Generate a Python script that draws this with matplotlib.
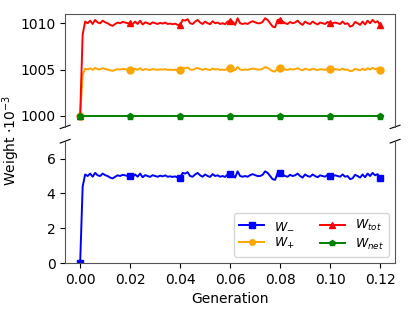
import numpy as np
import matplotlib.pyplot as plt

# generation axis, one sample per 0.001
generation = np.arange(121) * 0.001

w_minus = [
    0.00, 4.40, 5.09, 5.00, 5.14, 4.96, 5.18, 5.04, 5.00, 5.14,
    5.05, 5.00, 4.91, 4.86, 4.96, 5.04, 5.00, 5.07, 5.04, 5.00,
    5.00, 4.95, 5.09, 4.96, 5.14, 4.93, 5.05, 5.00, 4.95, 5.05,
    5.00, 4.96, 5.02, 4.98, 5.04, 4.96, 4.98, 4.95, 4.98, 4.91,
    4.90, 5.18, 5.14, 5.22, 5.00, 4.96, 5.09, 5.18, 5.04, 4.96,
    5.09, 5.00, 4.95, 5.11, 5.00, 5.04, 4.96, 5.00, 4.95, 5.09,
    5.14, 5.09, 4.91, 5.27, 5.00, 4.96, 5.00, 4.96, 5.05, 5.11,
    5.05, 5.00, 5.00, 5.07, 5.27, 5.18, 5.00, 4.82, 4.78, 5.18,
    5.20, 5.09, 5.00, 4.96, 5.07, 5.00, 5.04, 5.14, 5.00, 4.91,
    5.09, 5.00, 4.96, 5.09, 5.00, 4.93, 5.04, 5.00, 4.96, 5.07,
    5.02, 5.00, 5.04, 5.00, 4.96, 5.09, 4.96, 5.00, 4.82, 4.87,
    5.07, 5.00, 4.91, 5.09, 4.93, 5.14, 5.00, 5.18, 5.04, 5.11,
    4.90,
]

w_plus = [
    1000.00, 1004.40, 1005.09, 1005.00, 1005.14, 1004.96, 1005.18, 1005.04, 1005.00, 1005.14,
    1005.05, 1005.00, 1004.91, 1004.86, 1004.96, 1005.04, 1005.00, 1005.07, 1005.04, 1005.00,
    1005.00, 1004.95, 1005.09, 1004.96, 1005.14, 1004.93, 1005.05, 1005.00, 1004.95, 1005.05,
    1005.00, 1004.96, 1005.02, 1004.98, 1005.04, 1004.96, 1004.98, 1004.95, 1004.98, 1004.91,
    1004.90, 1005.18, 1005.14, 1005.22, 1005.00, 1004.96, 1005.09, 1005.18, 1005.04, 1004.96,
    1005.09, 1005.00, 1004.95, 1005.11, 1005.00, 1005.04, 1004.96, 1005.00, 1004.95, 1005.09,
    1005.14, 1005.09, 1004.91, 1005.27, 1005.00, 1004.96, 1005.00, 1004.96, 1005.05, 1005.11,
    1005.05, 1005.00, 1005.00, 1005.07, 1005.27, 1005.18, 1005.00, 1004.82, 1004.78, 1005.18,
    1005.20, 1005.09, 1005.00, 1004.96, 1005.07, 1005.00, 1005.04, 1005.14, 1005.00, 1004.91,
    1005.09, 1005.00, 1004.96, 1005.09, 1005.00, 1004.93, 1005.04, 1005.00, 1004.96, 1005.07,
    1005.02, 1005.00, 1005.04, 1005.00, 1004.96, 1005.09, 1004.96, 1005.00, 1004.82, 1004.87,
    1005.07, 1005.00, 1004.91, 1005.09, 1004.93, 1005.14, 1005.00, 1005.18, 1005.04, 1005.11,
    1004.90,
]

w_tot = [
    1000.00, 1008.80, 1010.18, 1010.00, 1010.28, 1009.92, 1010.36, 1010.08, 1010.00, 1010.28,
    1010.10, 1010.00, 1009.82, 1009.72, 1009.92, 1010.08, 1010.00, 1010.14, 1010.08, 1010.00,
    1010.00, 1009.90, 1010.18, 1009.92, 1010.28, 1009.86, 1010.10, 1010.00, 1009.90, 1010.10,
    1010.00, 1009.92, 1010.04, 1009.96, 1010.08, 1009.92, 1009.96, 1009.90, 1009.96, 1009.82,
    1009.80, 1010.36, 1010.28, 1010.44, 1010.00, 1009.92, 1010.18, 1010.36, 1010.08, 1009.92,
    1010.18, 1010.00, 1009.90, 1010.22, 1010.00, 1010.08, 1009.92, 1010.00, 1009.90, 1010.18,
    1010.28, 1010.18, 1009.82, 1010.54, 1010.00, 1009.92, 1010.00, 1009.92, 1010.10, 1010.22,
    1010.10, 1010.00, 1010.00, 1010.14, 1010.54, 1010.36, 1010.00, 1009.64, 1009.56, 1010.36,
    1010.40, 1010.18, 1010.00, 1009.92, 1010.14, 1010.00, 1010.08, 1010.28, 1010.00, 1009.82,
    1010.18, 1010.00, 1009.92, 1010.18, 1010.00, 1009.86, 1010.08, 1010.00, 1009.92, 1010.14,
    1010.04, 1010.00, 1010.08, 1010.00, 1009.92, 1010.18, 1009.92, 1010.00, 1009.64, 1009.74,
    1010.14, 1010.00, 1009.82, 1010.18, 1009.86, 1010.28, 1010.00, 1010.36, 1010.08, 1010.22,
    1009.80,
]

w_net = [1000.0] * 121

series = [
    (w_minus, 'blue', 's', r'$W_{-}$'),
    (w_plus, 'orange', 'o', r'$W_{+}$'),
    (w_tot, 'red', '^', r'$W_{tot}$'),
    (w_net, 'green', 'p', r'$W_{net}$'),
]

fig = plt.figure(figsize=(4.15, 3.11), dpi=100)
ax_top = fig.add_axes([0.157, 0.592, 0.795, 0.363])
ax_bot = fig.add_axes([0.157, 0.154, 0.795, 0.392])

for ax in (ax_top, ax_bot):
    for vals, color, marker, label in series:
        ax.plot(generation, vals, color=color, marker=marker, markevery=20,
                markersize=5, lw=1.4, label=label)
    ax.set_xlim(-0.006, 0.126)

ax_top.set_ylim(998.8, 1011)
ax_bot.set_ylim(0, 7)
ax_top.set_yticks([1000, 1005, 1010])
ax_bot.set_yticks([0, 2, 4, 6])
ax_bot.set_xticks([0, 0.02, 0.04, 0.06, 0.08, 0.10, 0.12])

ax_top.spines['bottom'].set_visible(False)
ax_bot.spines['top'].set_visible(False)
ax_top.tick_params(bottom=False, labelbottom=False)
for ax in (ax_top, ax_bot):
    for sp in ax.spines.values():
        sp.set_color('#555555')

# break marks
d = 0.015
kw = dict(transform=ax_top.transAxes, color='k', clip_on=False, lw=0.8)
ax_top.plot((-d, d), (-d, d), **kw)
ax_top.plot((1 - d, 1 + d), (-d, d), **kw)
kw.update(transform=ax_bot.transAxes)
ax_bot.plot((-d, d), (1 - d, 1 + d), **kw)
ax_bot.plot((1 - d, 1 + d), (1 - d, 1 + d), **kw)

ax_bot.set_xlabel('Generation')
fig.text(0.027, 0.55, r'Weight $\cdot 10^{-3}$', rotation=90,
         ha='center', va='center', fontsize=10)

ax_bot.legend(loc='lower right', ncol=2, fontsize=9, handlelength=2.0,
              labelspacing=0.3, columnspacing=2.0, markerscale=0.8)

fig.savefig('out.png', dpi=100)
